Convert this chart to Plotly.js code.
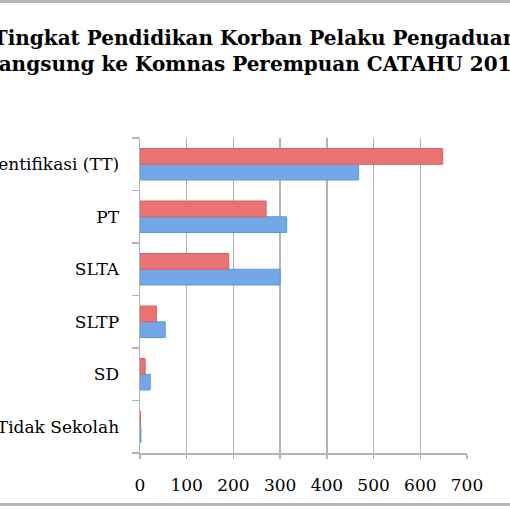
<!DOCTYPE html>
<html>
<head>
<meta charset="utf-8">
<script src="https://cdn.plot.ly/plotly-3.0.1.min.js"></script>
<style>
  html, body { margin: 0; padding: 0; background: #fff; overflow: hidden; }
  #wrap { position: relative; width: 510px; height: 510px; }
  #chart { width: 510px; height: 510px; }
  .rule { position: absolute; left: 0; width: 510px; height: 3px; background: #b8b8b8; }
</style>
</head>
<body>
<div id="wrap">
  <div id="chart"></div>
  <div class="rule" style="top:0"></div>
  <div class="rule" style="top:503px"></div>
</div>
<script>
/* global Plotly */
// bottom to top, as the axis reads
const categories = ['Tidak Sekolah', 'SD', 'SLTP', 'SLTA', 'PT', 'Tidak Teridentifikasi (TT)'];
const blueValues = [2, 22, 54, 300, 314, 468];
const redValues = [1, 11, 35, 190, 270, 648];
const xTicks = [0, 100, 200, 300, 400, 500, 600, 700];

const SERIF = '"DejaVu Serif", serif';
const GRID = '#b4b4b4';

(function () {
  const traces = [{
    type: 'bar',
    orientation: 'h',
    y: categories,
    x: blueValues,
    marker: { color: '#72a8e8', line: { color: '#5f97dc', width: 1 } },
    hoverinfo: 'x+y'
  }, {
    type: 'bar',
    orientation: 'h',
    y: categories,
    x: redValues,
    marker: { color: '#e97272', line: { color: '#dc6060', width: 1 } },
    hoverinfo: 'x+y'
  }];

  const layout = {
    width: 510,
    height: 510,
    margin: { l: 140, r: 43, t: 138, b: 57 },
    paper_bgcolor: '#fff',
    plot_bgcolor: '#fff',
    showlegend: false,
    barmode: 'group',
    bargap: 0.4,
    bargroupgap: 0,
    title: {
      text: '<b>Tingkat Pendidikan Korban Pelaku Pengaduan<br>Langsung ke Komnas Perempuan CATAHU 2011</b>',
      font: { family: SERIF, size: 20, color: '#000' },
      x: 0.5,
      xref: 'container',
      xanchor: 'center',
      y: 0.912,
      yref: 'container',
      yanchor: 'top'
    },
    xaxis: {
      range: [0, 700],
      tickvals: xTicks,
      showgrid: true,
      gridcolor: GRID,
      gridwidth: 1.5,
      zeroline: false,
      showline: true,
      linecolor: GRID,
      linewidth: 1.5,
      ticks: 'outside',
      ticklen: 4,
      tickcolor: GRID,
      tickwidth: 1.5,
      ticklabelstandoff: 12,
      tickfont: { family: SERIF, size: 17, color: '#000' }
    },
    yaxis: {
      type: 'category',
      categoryorder: 'array',
      categoryarray: categories,
      tickson: 'boundaries',
      showgrid: false,
      zeroline: false,
      showline: true,
      linecolor: GRID,
      linewidth: 1.5,
      ticks: 'outside',
      ticklen: 7,
      tickcolor: GRID,
      tickwidth: 1.5,
      ticklabelstandoff: 16,
      tickfont: { family: SERIF, size: 17, color: '#000' }
    }
  };

  Plotly.newPlot('chart', traces, layout, { displayModeBar: false, staticPlot: true });
})();
</script>
</body>
</html>
